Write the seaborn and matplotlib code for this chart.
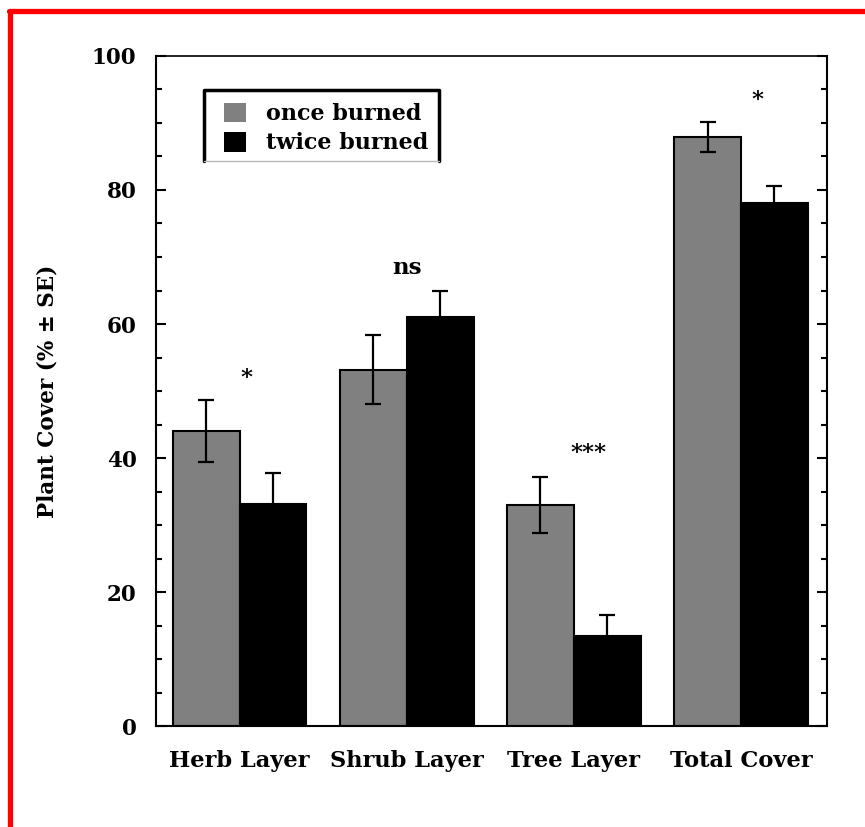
import matplotlib
matplotlib.use("Agg")
import matplotlib.pyplot as plt
from matplotlib.lines import Line2D
from matplotlib.patches import Patch
import numpy as np
import pandas as pd
import seaborn as sns

# ---- data ----
categories = ["Herb Layer", "Shrub Layer", "Tree Layer", "Total Cover"]
groups = ["once burned", "twice burned"]
once_mean = [44.0, 53.2, 33.0, 87.9]
once_se = [4.6, 5.1, 4.2, 2.3]
twice_mean = [33.1, 61.0, 13.5, 78.0]
twice_se = [4.7, 3.9, 3.0, 2.6]
sig_labels = ["*", "ns", "***", "*"]
sig_heights = [52.0, 68.4, 40.7, 93.4]
y_ticks = [0, 20, 40, 60, 80, 100]

sns.set_theme(style="white")
plt.rcParams["font.family"] = ["DejaVu Serif"]
plt.rcParams["font.weight"] = "bold"
plt.rcParams["text.color"] = "black"
plt.rcParams["axes.labelcolor"] = "black"
plt.rcParams["xtick.color"] = "black"
plt.rcParams["ytick.color"] = "black"

df = pd.DataFrame({
    "layer": categories * 2,
    "group": [groups[0]] * 4 + [groups[1]] * 4,
    "mean": once_mean + twice_mean,
    "se": once_se + twice_se,
})

fig = plt.figure(figsize=(8.65, 8.27), dpi=100)
ax = fig.add_axes([0.1803, 0.1221, 0.7758, 0.8102])

sns.barplot(data=df, x="layer", y="mean", hue="group", order=categories,
            hue_order=groups, palette=["#808080", "#000000"], errorbar=None,
            width=0.8, edgecolor="black", linewidth=1.5, saturation=1,
            ax=ax, legend=False)

# error bars
means = once_mean + twice_mean
ses = once_se + twice_se
for p, m, s in zip(ax.patches, means, ses):
    cx = p.get_x() + p.get_width() / 2
    ax.errorbar(cx, m, yerr=s, fmt="none", ecolor="black", elinewidth=1.6,
                capsize=5.5, capthick=1.6, zorder=5)

# significance labels
offsets = [0.04, 0.0, 0.09, 0.10]
for i, (lab, h) in enumerate(zip(sig_labels, sig_heights)):
    ax.text(i + offsets[i], h, lab, ha="center", va="center",
            fontsize=16.5, fontweight="bold", color="black")

ax.set_xlim(-0.5, 3.515)
ax.set_ylim(0, 100)
ax.set_yticks(y_ticks)
ax.set_yticks(np.arange(0, 101, 5), minor=True)
ax.set_yticklabels([str(t) for t in y_ticks], fontsize=15.5, fontweight="bold")
ax.set_xticks(range(len(categories)))
ax.set_xticklabels(categories, fontsize=16.2, fontweight="bold")
ax.set_xlabel("")
ax.set_ylabel("Plant Cover (% \u00b1 SE)", fontsize=15.5, fontweight="bold", labelpad=24)

ax.tick_params(axis="y", which="major", direction="in", length=7, width=1.5,
               left=True, right=True, pad=14)
ax.tick_params(axis="y", which="minor", direction="in", length=4.5, width=1.5,
               left=True, right=True)
ax.tick_params(axis="x", which="both", bottom=False, top=False, pad=11)
for sp in ax.spines.values():
    sp.set_visible(True)
    sp.set_color("black")
    sp.set_linewidth(1.5)
ax.spines["top"].set_linewidth(1.2)

# legend (manual frame: thick black top/left/right, thin gray bottom)
handles = [Patch(facecolor="#808080", edgecolor="none"),
           Patch(facecolor="#000000", edgecolor="none")]
leg = ax.legend(handles, groups, loc="upper left", bbox_to_anchor=(0.085, 0.947),
                frameon=False, prop={"weight": "bold", "size": 16},
                handlelength=1.0, handleheight=1.0, handletextpad=0.9,
                labelspacing=0.3, borderpad=0)
x0, x1, y0, y1 = 0.0715, 0.4218, 0.843, 0.949
ax.add_line(Line2D([x0, x0, x1, x1], [y0, y1, y1, y0], transform=ax.transAxes,
                   color="black", lw=2.5, clip_on=False, zorder=6))
ax.add_line(Line2D([x0, x1], [y0, y0], transform=ax.transAxes,
                   color="#bbbbbb", lw=1.0, clip_on=False, zorder=6))

# red page border (left and top)
fig.add_artist(Line2D([0.0121, 0.0121], [0.0, 0.9873], transform=fig.transFigure,
                      color="red", lw=3.8))
fig.add_artist(Line2D([0.0121 - 0.002, 1.0], [0.9873, 0.9873], transform=fig.transFigure,
                      color="red", lw=3.8))

fig.savefig("out.png", dpi=100, facecolor="white")
